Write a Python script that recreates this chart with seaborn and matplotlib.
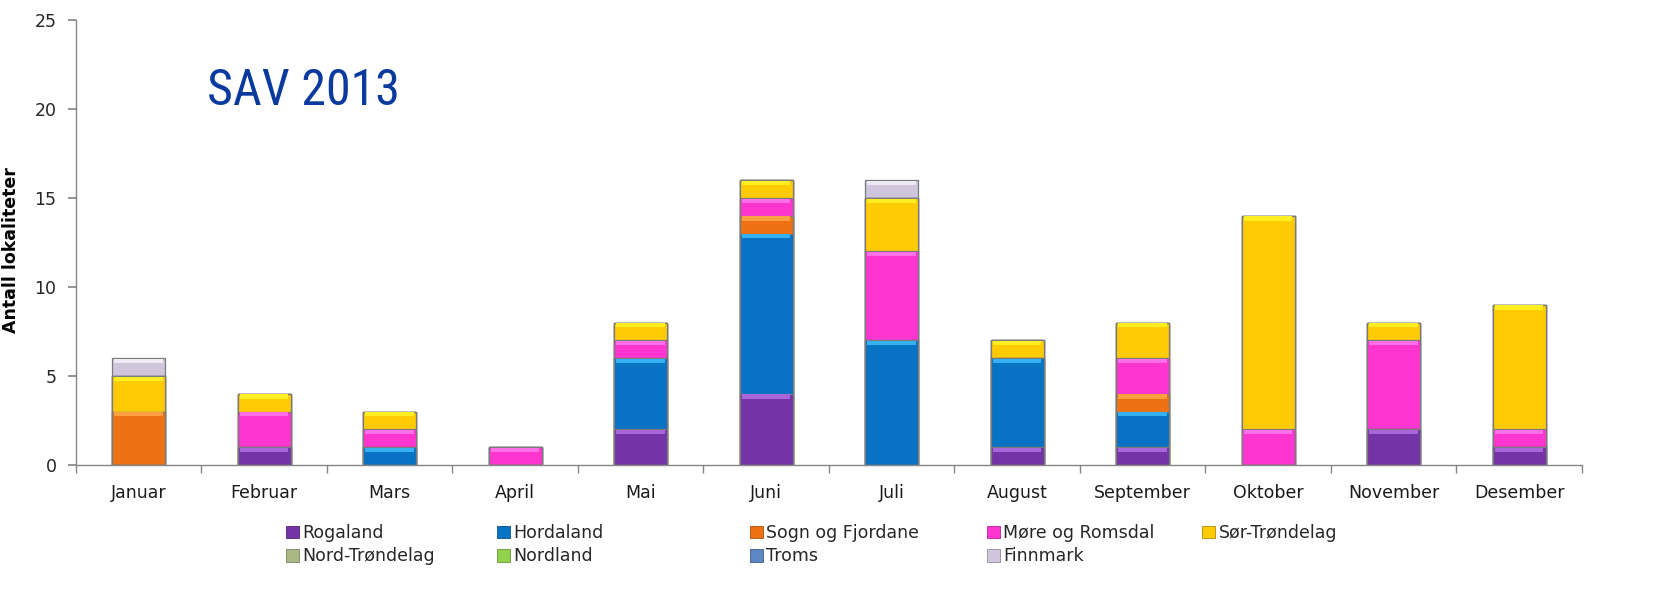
import matplotlib
matplotlib.use("Agg")
import matplotlib.pyplot as plt
import matplotlib.colors as mcolors
from matplotlib import font_manager
import seaborn as sns
import pandas as pd
import numpy as np
from matplotlib.patches import Patch

months = ["Januar", "Februar", "Mars", "April", "Mai", "Juni", "Juli",
          "August", "September", "Oktober", "November", "Desember"]
regions = ["Rogaland", "Hordaland", "Sogn og Fjordane", "Møre og Romsdal",
           "Sør-Trøndelag", "Nord-Trøndelag", "Nordland", "Troms", "Finnmark"]
rogaland       = [0, 1, 0, 0, 2, 4, 0, 1, 1, 0, 2, 1]
hordaland      = [0, 0, 1, 0, 4, 9, 7, 5, 2, 0, 0, 0]
sogn_fjordane  = [3, 0, 0, 0, 0, 1, 0, 0, 1, 0, 0, 0]
more_romsdal   = [0, 2, 1, 1, 1, 1, 5, 0, 2, 2, 5, 1]
sor_trondelag  = [2, 1, 1, 0, 1, 1, 3, 1, 2, 12, 1, 7]
nord_trondelag = [0, 0, 0, 0, 0, 0, 0, 0, 0, 0, 0, 0]
nordland       = [0, 0, 0, 0, 0, 0, 0, 0, 0, 0, 0, 0]
troms          = [0, 0, 0, 0, 0, 0, 0, 0, 0, 0, 0, 0]
finnmark       = [1, 0, 0, 0, 0, 0, 1, 0, 0, 0, 0, 0]
series = [rogaland, hordaland, sogn_fjordane, more_romsdal, sor_trondelag,
          nord_trondelag, nordland, troms, finnmark]
colors = ["#7433A6", "#0872C4", "#EE7214", "#FF35CF", "#FFCB05",
          "#A9B985", "#92D050", "#5B87C2", "#CFC6DD"]
highlights = ["#A866D8", "#35B0F0", "#FFA040", "#FF6FE8", "#FFEE22",
              "#C8D8A8", "#B0E878", "#80A8E0", "#EEEAF4"]


def shade(c, f):
    r = np.array(mcolors.to_rgb(c))
    if f >= 0:
        r = r + (1 - r) * f
    else:
        r = r * (1 + f)
    return tuple(np.clip(r, 0, 1))


sns.set_theme(style="white")
plt.rcParams['font.family'] = ['DejaVu Sans']

avail = {f.name for f in font_manager.fontManager.ttflist}
title_font = "DejaVu Sans"
for cand in ["Liberation Sans Narrow", "Roboto Condensed", "Open Sans Condensed", "Roboto"]:
    if cand in avail:
        title_font = cand
        break

fig = plt.figure(figsize=(16.76, 6.06), dpi=100)
ax = fig.add_axes([0.0453, 0.2327, 0.8986, 0.7343])

bar_w = 0.42
vals = np.array(series)
cum = np.cumsum(vals, axis=0)
for i in range(len(series) - 1, -1, -1):
    df = pd.DataFrame({"month": months, "value": cum[i]})
    sns.barplot(data=df, x="month", y="value", order=months, color=colors[i],
                width=bar_w, edgecolor="#7a7a7a", linewidth=0.9, ax=ax,
                saturation=1)

# bevel highlight at the top of each segment
xpos = np.arange(len(months))
for i in range(len(series)):
    mask = vals[i] > 0
    if not mask.any():
        continue
    top = cum[i][mask]
    ax.bar(xpos[mask], 0.24, width=bar_w * 0.92, bottom=top - 0.27,
           color=highlights[i], linewidth=0, zorder=3)

ax.set_xlim(-0.5, 11.5)
ax.set_ylim(0, 25)
ax.set_yticks(range(0, 26, 5))
ax.set_xlabel("")
ax.set_ylabel("Antall lokaliteter", fontsize=12.5, fontweight="bold",
              color="black")
ax.yaxis.set_label_coords(-0.037, 0.483)
for s in ["top", "right"]:
    ax.spines[s].set_visible(False)
for s in ["left", "bottom"]:
    ax.spines[s].set_color("#868686")
    ax.spines[s].set_linewidth(1.0)
    ax.spines[s].set_zorder(5)
ax.set_xticks(np.arange(-0.5, 12, 1), minor=True)
ax.tick_params(axis="x", which="major", length=0, labelsize=12.5, pad=14,
               colors="#1a1a1a")
ax.tick_params(axis="x", which="minor", length=6, color="#868686",
               direction="out", bottom=True)
ax.tick_params(axis="y", which="major", length=6, color="#868686",
               direction="out", left=True, labelsize=12.5,
               labelcolor="#262626", pad=8)
ax.grid(False)

fig.text(207 / 1676, 1 - 105 / 606, "SAV 2013", fontsize=36, color="#0A3A9E",
         ha="left", va="baseline", family=[title_font, "DejaVu Sans"])

handles = [Patch(facecolor=c, edgecolor=shade(c, -0.3), linewidth=0.6) for c in colors]
col_items = [[0, 5], [1, 6], [2, 7], [3, 8], [4]]
col_x = [286, 497, 750, 987, 1202]
for items, x in zip(col_items, col_x):
    leg = fig.legend([handles[i] for i in items], [regions[i] for i in items],
                     loc="upper left", bbox_to_anchor=(x / 1676, 1 - 524 / 606),
                     frameon=False, fontsize=12.5, handlelength=0.75,
                     handleheight=0.75, handletextpad=0.2, labelspacing=0.3,
                     borderpad=0, borderaxespad=0)

fig.savefig("out.png", dpi=100)
